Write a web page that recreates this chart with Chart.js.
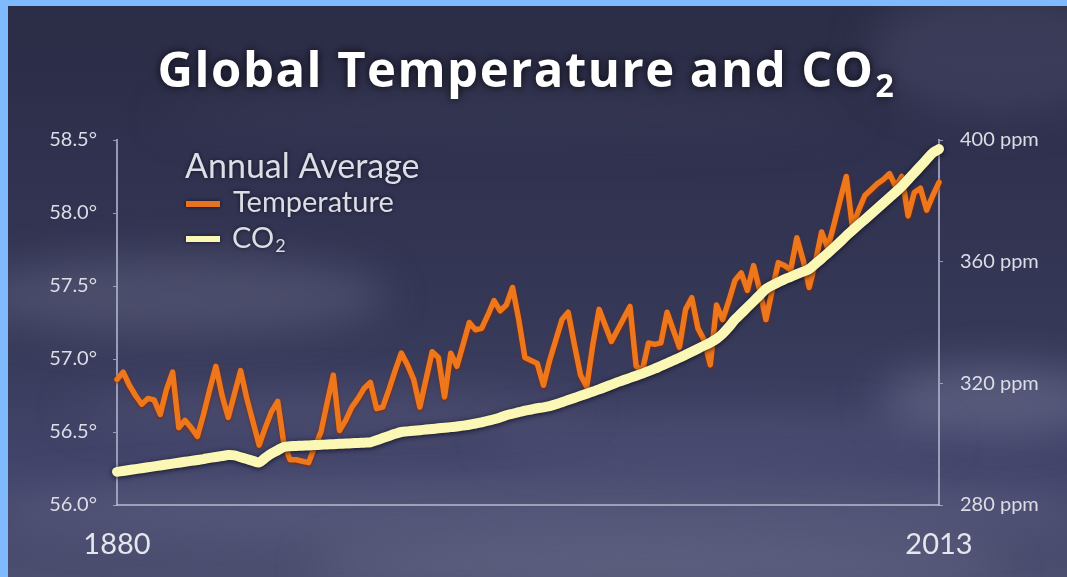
<!DOCTYPE html>
<html>
<head>
<meta charset="utf-8">
<title>Global Temperature and CO2</title>
<script src="https://cdn.jsdelivr.net/npm/chart.js@4.4.1/dist/chart.umd.min.js"></script>
<style>
  html, body { margin: 0; padding: 0; width: 1067px; height: 577px; overflow: hidden; background: #7fbaff; }
  #sky {
    position: absolute; left: 8px; top: 6px; width: 1059px; height: 571px; overflow: hidden;
    background: linear-gradient(180deg, #2b2c45 0%, #303250 30%, #363857 55%, #42446a 80%, #4c4e70 100%);
  }
  .cloud { position: absolute; border-radius: 50%; filter: blur(20px); }
  #wrap { position: absolute; left: 0; top: 0; width: 1067px; height: 577px; }
</style>
</head>
<body>
<div id="sky">
  <div class="cloud" style="left:-40px;top:250px;width:420px;height:80px;background:rgba(118,120,150,0.35)"></div>
  <div class="cloud" style="left:60px;top:385px;width:520px;height:40px;background:rgba(110,112,145,0.28)"></div>
  <div class="cloud" style="left:-20px;top:470px;width:1100px;height:70px;background:rgba(120,122,152,0.28)"></div>
  <div class="cloud" style="left:870px;top:360px;width:230px;height:70px;background:rgba(135,137,168,0.38)"></div>
  <div class="cloud" style="left:480px;top:410px;width:460px;height:50px;background:rgba(100,102,135,0.28)"></div>
  <div class="cloud" style="left:300px;top:530px;width:700px;height:60px;background:rgba(130,132,160,0.3)"></div>
  <div class="cloud" style="left:860px;top:-20px;width:260px;height:130px;background:rgba(75,78,108,0.45)"></div>
  <div class="cloud" style="left:150px;top:90px;width:700px;height:40px;background:rgba(70,72,100,0.3)"></div>
</div>
<div id="wrap"><canvas id="chart" width="1067" height="577"></canvas></div>
<script>
// Annual averages, one value per year from firstYear to lastYear
const firstYear = 1880;
const lastYear = 2013;

// Global annual average temperature (°F)
const temperatureF = [
  56.86, 56.91, 56.82, 56.75, 56.69, 56.73, 56.72, 56.62, 56.79, 56.91,
  56.53, 56.58, 56.53, 56.47, 56.62, 56.79, 56.95, 56.75, 56.60, 56.76,
  56.92, 56.73, 56.57, 56.41, 56.53, 56.64, 56.71, 56.42, 56.31, 56.31,
  56.30, 56.29, 56.40, 56.50, 56.70, 56.89, 56.51, 56.58, 56.67, 56.73,
  56.80, 56.84, 56.66, 56.67, 56.79, 56.92, 57.04, 56.96, 56.86, 56.67,
  56.86, 57.05, 57.01, 56.74, 57.04, 56.95, 57.10, 57.25, 57.20, 57.21,
  57.30, 57.40, 57.33, 57.37, 57.49, 57.27, 57.01, 56.99, 56.97, 56.82,
  56.99, 57.13, 57.27, 57.32, 57.10, 56.89, 56.81, 57.10, 57.34, 57.23,
  57.12, 57.20, 57.28, 57.36, 56.95, 56.92, 57.11, 57.10, 57.11, 57.32,
  57.20, 57.08, 57.34, 57.42, 57.21, 57.13, 56.96, 57.37, 57.27, 57.40,
  57.54, 57.59, 57.47, 57.64, 57.47, 57.27, 57.47, 57.66, 57.64, 57.61,
  57.83, 57.68, 57.49, 57.66, 57.87, 57.76, 57.92, 58.09, 58.25, 57.90,
  58.02, 58.12, 58.16, 58.20, 58.23, 58.27, 58.18, 58.25, 57.98, 58.14,
  58.17, 58.02, 58.12, 58.21
];

// Atmospheric CO2 concentration (ppm)
const co2ppm = [
  290.9, 291.2, 291.5, 291.8, 292.1, 292.4, 292.7, 293.0, 293.3, 293.6,
  293.9, 294.2, 294.5, 294.8, 295.1, 295.5, 295.8, 296.1, 296.4, 296.3,
  295.7, 295.1, 294.5, 294.0, 295.5, 296.9, 298.0, 299.1, 299.3, 299.4,
  299.5, 299.6, 299.7, 299.8, 299.9, 300.0, 300.1, 300.2, 300.3, 300.4,
  300.5, 300.6, 301.3, 302.0, 302.7, 303.4, 304.0, 304.2, 304.4, 304.6,
  304.8, 305.0, 305.2, 305.4, 305.6, 305.8, 306.1, 306.4, 306.8, 307.2,
  307.7, 308.2, 308.8, 309.5, 310.0, 310.5, 311.0, 311.4, 311.8, 312.1,
  312.5, 313.1, 313.8, 314.5, 315.2, 315.9, 316.6, 317.3, 318.0, 318.8,
  319.6, 320.4, 321.1, 321.8, 322.5, 323.2, 324.0, 324.8, 325.7, 326.6,
  327.5, 328.4, 329.4, 330.4, 331.4, 332.4, 333.4, 334.6, 336.3, 338.5,
  341.0, 343.0, 345.0, 347.0, 349.0, 351.0, 352.2, 353.2, 354.2, 355.0,
  355.9, 356.7, 357.6, 359.3, 361.0, 362.8, 364.6, 366.5, 368.5, 370.3,
  372.1, 373.9, 375.7, 377.5, 379.3, 381.1, 382.9, 384.8, 387.0, 389.2,
  391.4, 393.6, 395.8, 397.0
];

// Axis tick labels
const yearTicks = [1880, 2013];
const tempTicks = [56.0, 56.5, 57.0, 57.5, 58.0, 58.5];
const co2Ticks = [280, 320, 360, 400];

const chartTitle = 'Global Temperature and CO';
const legendHeading = 'Annual Average';
const legendTemp = 'Temperature';
const legendCO2 = 'CO';

const toPoints = arr => arr.map((v, i) => ({ x: firstYear + i, y: v }));

const axisLine = 'rgba(178,180,204,0.8)';
const labelColor = '#dcdde6';

// Soft dark halo under each line
const lineGlow = {
  id: 'lineGlow',
  beforeDatasetDraw(chart, args) {
    const ctx = chart.ctx;
    const ds = chart.data.datasets[args.index];
    ctx.save();
    ctx.shadowColor = ds.glowColor;
    ctx.shadowBlur = ds.glowBlur;
    ctx.shadowOffsetY = 1;
  },
  afterDatasetDraw(chart) {
    chart.ctx.restore();
  }
};

// Title and the annual-average key
const headerAndKey = {
  id: 'headerAndKey',
  afterDraw(chart) {
    const ctx = chart.ctx;
    ctx.save();
    // title with subscript 2
    ctx.shadowColor = 'rgba(0,0,0,0.8)';
    ctx.shadowBlur = 8;
    ctx.fillStyle = '#ffffff';
    ctx.textBaseline = 'alphabetic';
    ctx.textAlign = 'left';
    ctx.letterSpacing = '1.5px';
    const mainFont = 'bold 49px "Open Sans"';
    const subFont = 'bold 32px "Open Sans"';
    ctx.font = mainFont;
    const w1 = ctx.measureText(chartTitle).width;
    ctx.font = subFont;
    const w2 = ctx.measureText('2').width;
    const x0 = 527 - (w1 + w2 + 2) / 2;
    ctx.font = mainFont;
    ctx.fillText(chartTitle, x0, 87);
    ctx.font = subFont;
    ctx.fillText('2', x0 + w1 + 1, 97);
    ctx.letterSpacing = '0px';

    // key
    ctx.shadowColor = 'rgba(0,0,0,0.6)';
    ctx.shadowBlur = 4;
    ctx.fillStyle = labelColor;
    ctx.font = '34px Lato';
    ctx.fillText(legendHeading, 185, 178);
    ctx.font = '29px Lato';
    ctx.fillText(legendTemp, 233, 212);
    ctx.fillText(legendCO2, 232, 248);
    const wc = ctx.measureText(legendCO2).width;
    ctx.font = '18px Lato';
    ctx.fillText('2', 232 + wc + 1, 252);

    ctx.lineCap = 'butt';
    ctx.lineWidth = 6;
    ctx.strokeStyle = '#e8731e';
    ctx.beginPath(); ctx.moveTo(186, 204); ctx.lineTo(220, 204); ctx.stroke();
    ctx.strokeStyle = '#fbf7b4';
    ctx.beginPath(); ctx.moveTo(186, 239); ctx.lineTo(220, 239); ctx.stroke();
    ctx.restore();
  }
};

new Chart(document.getElementById('chart'), {
  type: 'line',
  data: {
    datasets: [
      {
        label: 'CO2',
        data: toPoints(co2ppm),
        yAxisID: 'yC',
        borderColor: '#fbf8b6',
        borderWidth: 10,
        tension: 0.3,
        borderCapStyle: 'round',
        borderJoinStyle: 'round',
        pointRadius: 0,
        clip: false,
        order: 0,
        glowColor: 'rgba(10,10,25,0.85)',
        glowBlur: 5
      },
      {
        label: 'Temperature',
        data: toPoints(temperatureF),
        yAxisID: 'yT',
        borderColor: '#ee761b',
        borderWidth: 5.5,
        tension: 0,
        borderCapStyle: 'round',
        borderJoinStyle: 'round',
        pointRadius: 0,
        clip: false,
        order: 1,
        glowColor: 'rgba(130,40,10,0.95)',
        glowBlur: 3
      }
    ]
  },
  options: {
    responsive: false,
    animation: false,
    events: [],
    layout: { padding: { top: 140, left: 0, right: 0, bottom: 0 } },
    plugins: { legend: { display: false }, tooltip: { enabled: false }, title: { display: false } },
    scales: {
      x: {
        type: 'linear',
        min: firstYear,
        max: lastYear,
        afterBuildTicks: s => { s.ticks = yearTicks.map(v => ({ value: v })); },
        afterFit: s => { s.height = 72; },
        ticks: {
          color: '#e6e6ee',
          font: { family: 'Lato', size: 29 },
          padding: 22,
          maxRotation: 0,
          autoSkip: false,
          callback: v => String(v)
        },
        grid: { display: false, drawTicks: false },
        border: { display: true, color: axisLine, width: 2 }
      },
      yT: {
        position: 'left',
        min: 56,
        max: 58.5,
        afterBuildTicks: s => { s.ticks = tempTicks.map(v => ({ value: v })); },
        afterFit: s => { s.width = 117; },
        ticks: {
          color: labelColor,
          font: { family: 'Lato', size: 20 },
          padding: 16,
          callback: v => v.toFixed(1) + '°'
        },
        grid: { drawOnChartArea: false, tickLength: 4, color: axisLine, lineWidth: 1 },
        border: { display: true, color: axisLine, width: 2 }
      },
      yC: {
        position: 'right',
        min: 280,
        max: 400,
        afterBuildTicks: s => { s.ticks = co2Ticks.map(v => ({ value: v })); },
        afterFit: s => { s.width = 128; },
        ticks: {
          color: labelColor,
          font: { family: 'Lato', size: 20 },
          padding: 17,
          callback: v => v + ' ppm'
        },
        grid: { drawOnChartArea: false, tickLength: 4, color: axisLine, lineWidth: 1 },
        border: { display: true, color: axisLine, width: 2 }
      }
    }
  },
  plugins: [lineGlow, headerAndKey]
});
</script>
</body>
</html>
